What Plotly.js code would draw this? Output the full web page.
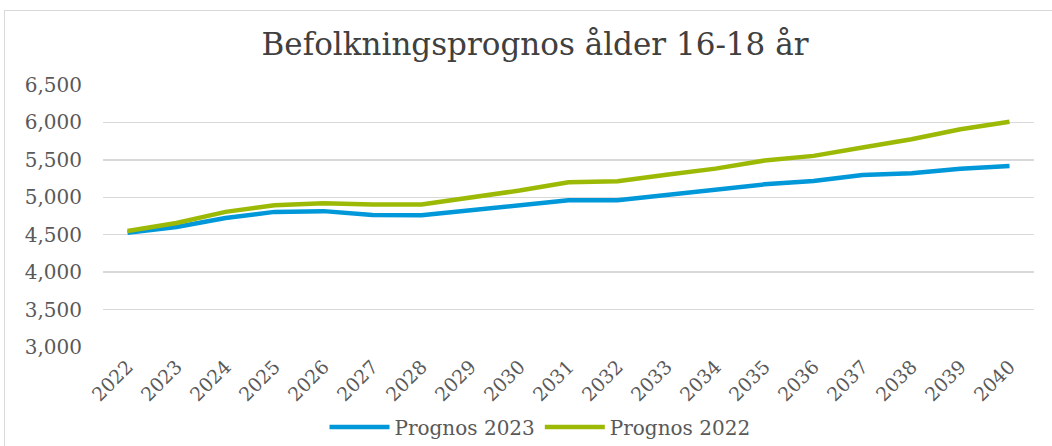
<!DOCTYPE html>
<html>
<head>
<meta charset="utf-8">
<script src="https://cdn.plot.ly/plotly-3.0.1.min.js"></script>
<style>
html,body{margin:0;padding:0;background:#fff;overflow:hidden;}
#frame{position:absolute;left:4px;top:10px;width:1100px;height:500px;border:1px solid #d9d9d9;box-sizing:border-box;}
#chart{position:absolute;left:0;top:0;width:1052px;height:446px;}
</style>
</head>
<body>
<div id="frame"></div>
<div id="chart"></div>
<script>
const years = ['2022','2023','2024','2025','2026','2027','2028','2029','2030','2031','2032','2033','2034','2035','2036','2037','2038','2039','2040'];
const prognos2023 = [4527,4603,4724,4805,4815,4765,4759,4822,4898,4960,4962,5032,5103,5173,5217,5297,5320,5381,5417];
const prognos2022 = [4549,4657,4805,4895,4919,4902,4905,4990,5090,5200,5215,5300,5383,5491,5553,5664,5776,5909,6008];
const yTicks = [3000,3500,4000,4500,5000,5500,6000,6500];
const yTickText = ['3,000','3,500','4,000','4,500','5,000','5,500','6,000','6,500'];

const FONT = '"DejaVu Serif", "Liberation Serif", serif';

const traces = [
  {x: years, y: prognos2023, name: 'Prognos 2023', type: 'scatter', mode: 'lines',
   line: {color: '#0098d8', width: 4.5}},
  {x: years, y: prognos2022, name: 'Prognos 2022', type: 'scatter', mode: 'lines',
   line: {color: '#9cba05', width: 4.5}}
];

const layout = {
  width: 1052, height: 446,
  paper_bgcolor: 'rgba(0,0,0,0)', plot_bgcolor: 'rgba(0,0,0,0)',
  margin: {l: 103, r: 18, t: 85, b: 99},
  title: {text: 'Befolkningsprognos ålder 16-18 år', x: 535/1052, xref: 'container', xanchor: 'center',
          y: 1 - 44/446, yref: 'container', yanchor: 'middle',
          font: {family: FONT, size: 31, color: '#404040'}},
  xaxis: {type: 'category', range: [-0.5, 18.5], showgrid: false, zeroline: false, showline: false,
          tickangle: -45, ticks: '', tickfont: {family: FONT, size: 19, color: '#595959'}, ticklabelstandoff: 4, fixedrange: true},
  yaxis: {range: [3000, 6500], tickvals: yTicks, ticktext: yTickText, showgrid: true, gridcolor: '#d9d9d9', gridwidth: 1.5,
          zeroline: false, showline: false, ticks: '', ticklabelstandoff: 20,
          tickfont: {family: FONT, size: 20, color: '#595959'}, fixedrange: true},
  showlegend: true,
  legend: {orientation: 'h', xref: 'container', yref: 'container', x: 540/1052, xanchor: 'center',
           y: 1 - 427/446, yanchor: 'middle', itemwidth: 60, traceorder: 'normal',
           font: {family: FONT, size: 20, color: '#595959'}, bgcolor: 'rgba(0,0,0,0)'}
};

Plotly.newPlot('chart', traces, layout, {displayModeBar: false, staticPlot: true});
</script>
</body>
</html>
